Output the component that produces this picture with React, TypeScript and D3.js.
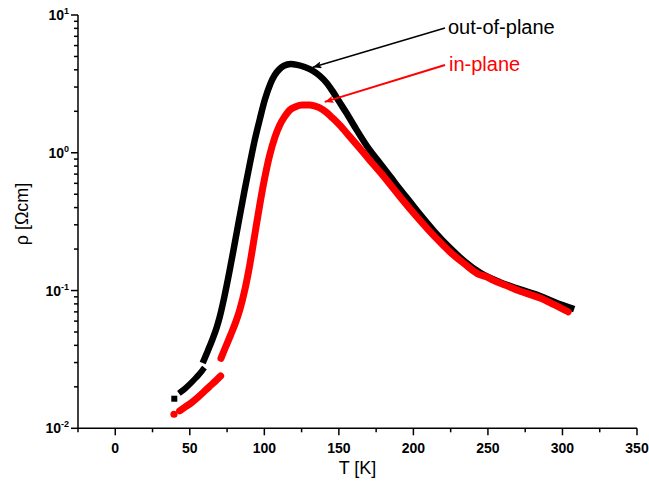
import React from 'react';
import * as d3 from 'd3';

// resistivity rho [Ohm cm] vs temperature T [K]
type Pt = [number, number];

const outOfPlaneSingle: Pt[] = [[39.6, 0.0164]];
const outOfPlaneLow: Pt[] = [
  [44.3, 0.0185], [47, 0.0195], [50, 0.0209], [53, 0.0226], [56, 0.0245], [58.6, 0.0265],
];
const outOfPlaneMain: Pt[] = [
  [59.5, 0.0313], [62, 0.0363], [65, 0.0437], [68, 0.0537], [70, 0.0638], [73, 0.0881],
  [76.8, 0.141], [80, 0.216], [83, 0.324], [86.8, 0.537], [90, 0.804], [93.6, 1.24],
  [97, 1.76], [100.3, 2.42], [104, 3.16], [107, 3.67], [110, 4.03], [113, 4.27],
  [117.7, 4.41], [122, 4.345], [127, 4.19], [132.5, 3.94], [137, 3.63], [142, 3.2],
  [146.2, 2.754], [150, 2.371], [155, 1.95], [161.7, 1.479], [170, 1.072], [177.6, 0.841],
  [185, 0.661], [191, 0.543], [198, 0.437], [204.3, 0.359], [214, 0.269], [224.5, 0.204],
  [234, 0.164], [244.6, 0.135], [258, 0.115], [271.6, 0.102], [285, 0.0912], [295, 0.0822],
  [305.8, 0.0746],
];

const inPlaneSingle: Pt[] = [[39.4, 0.01265]];
const inPlaneLow: Pt[] = [
  [43.2, 0.0134], [47, 0.0143], [51, 0.0153], [55, 0.0166], [59, 0.0182], [63, 0.02],
  [67, 0.0219], [70.7, 0.024],
];
const inPlaneMain: Pt[] = [
  [70.9, 0.0322], [74, 0.0389], [77.5, 0.0479], [81.3, 0.0611], [83.5, 0.0723], [87, 0.102],
  [90.2, 0.153], [93.5, 0.251], [96.9, 0.417], [100.3, 0.661], [103.6, 0.962], [107, 1.29],
  [110.3, 1.585], [113.5, 1.82], [117, 2.04], [121, 2.16], [125.5, 2.22], [130.4, 2.22],
  [134, 2.18], [137.2, 2.12], [142, 1.95], [146, 1.778], [150.6, 1.585], [157, 1.32],
  [164, 1.08], [170, 0.902], [177.6, 0.724], [184, 0.596], [191, 0.479], [197.5, 0.394],
  [204.3, 0.324], [214, 0.248], [224.5, 0.191], [234, 0.157], [244.6, 0.13], [249, 0.126],
  [253.4, 0.119], [262, 0.109], [271.6, 0.0989], [278, 0.0938], [285, 0.0883], [294, 0.0794],
  [303.8, 0.0701],
];

const xTicks = [0, 50, 100, 150, 200, 250, 300, 350];
const xMinorTicks = [-25, 25, 75, 125, 175, 225, 275, 325];
const yDecades = [0.01, 0.1, 1, 10];
const yExponents = ['-2', '-1', '0', '1'];

// annotations: [label, text anchor point, arrow tail, arrow tip] in data units
const outOfPlaneNote = { label: 'out-of-plane', text: [223.2, 7.24], tail: [221.2, 8.05], tip: [132.5, 4.17] };
const inPlaneNote = { label: 'in-plane', text: [223.9, 3.92], tail: [221.2, 4.34], tip: [140.5, 2.34] };

const W = 649;
const H = 495;
const font = '"Liberation Sans", Arial, sans-serif';

export default function App() {
  const x = d3.scaleLinear().domain([-25, 350]).range([78, 637]);
  const y = d3.scaleLog().domain([0.01, 10]).range([428.3, 15]);

  const line = d3
    .line<Pt>()
    .x(d => x(d[0]))
    .y(d => y(d[1]))
    .curve(d3.curveMonotoneX);

  const yMinor: number[] = [];
  yDecades.slice(0, -1).forEach(d => {
    for (let k = 2; k <= 9; k++) yMinor.push(d * k);
  });

  const y0 = y.range()[0];
  const x0 = x.range()[0];

  return (
    <svg width={W} height={H} style={{ position: 'absolute', left: 0, top: 0 }}>
      <defs>
        <marker id="arrBlack" viewBox="0 0 10 8" refX="10" refY="4" markerWidth="10" markerHeight="7"
          markerUnits="userSpaceOnUse" orient="auto">
          <path d="M0,0 L10,4 L0,8 L2,4 Z" fill="#000" />
        </marker>
        <marker id="arrRed" viewBox="0 0 10 8" refX="10" refY="4" markerWidth="10" markerHeight="7"
          markerUnits="userSpaceOnUse" orient="auto">
          <path d="M0,0 L10,4 L0,8 L2,4 Z" fill="#ff0000" />
        </marker>
      </defs>
      <rect width={W} height={H} fill="#fff" />

      {/* out-of-plane */}
      <g>
        <path d={line(outOfPlaneLow) || ''} fill="none" stroke="#000" strokeWidth={6}
          strokeLinecap="square" strokeLinejoin="round" />
        <path d={line(outOfPlaneMain) || ''} fill="none" stroke="#000" strokeWidth={6.5}
          strokeLinecap="square" strokeLinejoin="round" />
        {outOfPlaneSingle.map((d, i) => (
          <rect key={i} x={x(d[0]) - 3} y={y(d[1]) - 3} width={6} height={6} fill="#000" />
        ))}
      </g>

      {/* in-plane */}
      <g>
        <path d={line(inPlaneLow) || ''} fill="none" stroke="#ff0000" strokeWidth={7}
          strokeLinecap="round" strokeLinejoin="round" />
        <path d={line(inPlaneMain) || ''} fill="none" stroke="#ff0000" strokeWidth={7}
          strokeLinecap="round" strokeLinejoin="round" />
        {inPlaneSingle.map((d, i) => (
          <circle key={i} cx={x(d[0])} cy={y(d[1])} r={3.6} fill="#ff0000" />
        ))}
      </g>

      {/* annotations */}
      {[
        { n: outOfPlaneNote, c: '#000', m: 'url(#arrBlack)', w: 1.5 },
        { n: inPlaneNote, c: '#ff0000', m: 'url(#arrRed)', w: 2 },
      ].map(({ n, c, m, w }) => (
        <g key={n.label}>
          <line x1={x(n.tail[0])} y1={y(n.tail[1])} x2={x(n.tip[0])} y2={y(n.tip[1])}
            stroke={c} strokeWidth={w} markerEnd={m} />
          <text x={x(n.text[0])} y={y(n.text[1])} fill={c} fontFamily={font} fontSize={20}>
            {n.label}
          </text>
        </g>
      ))}

      {/* x axis */}
      <g fontFamily={font}>
        <line x1={x0} x2={x.range()[1]} y1={y0} y2={y0} stroke="#000" strokeWidth={1.5} />
        {xTicks.map(t => (
          <g key={t}>
            <line x1={x(t)} x2={x(t)} y1={y0} y2={y0 + 7} stroke="#000" strokeWidth={1.5} />
            <text x={x(t)} y={y0 + 25} textAnchor="middle" fontSize={14} fontWeight="bold">
              {t}
            </text>
          </g>
        ))}
        {xMinorTicks.map(t => (
          <line key={t} x1={x(t)} x2={x(t)} y1={y0} y2={y0 + 4} stroke="#000" strokeWidth={1.5} />
        ))}
        <text x={(x.range()[0] + x.range()[1]) / 2} y={474} textAnchor="middle" fontSize={18}>
          T [K]
        </text>
      </g>

      {/* y axis */}
      <g fontFamily={font}>
        <line x1={x0} x2={x0} y1={y.range()[1]} y2={y0} stroke="#000" strokeWidth={1.5} />
        {yDecades.map((d, i) => (
          <g key={d}>
            <line x1={x0 - 7} x2={x0} y1={y(d)} y2={y(d)} stroke="#000" strokeWidth={1.5} />
            <text x={69} y={y(d) + 5} textAnchor="end" fontSize={14} fontWeight="bold">
              10
              <tspan dy={-6} fontSize={9}>{yExponents[i]}</tspan>
            </text>
          </g>
        ))}
        {yMinor.map(d => (
          <line key={d} x1={x0 - 4} x2={x0} y1={y(d)} y2={y(d)} stroke="#000" strokeWidth={1.5} />
        ))}
        <text transform={`translate(28,214) rotate(-90)`} textAnchor="middle" fontSize={18}>
          ρ [Ωcm]
        </text>
      </g>
    </svg>
  );
}
